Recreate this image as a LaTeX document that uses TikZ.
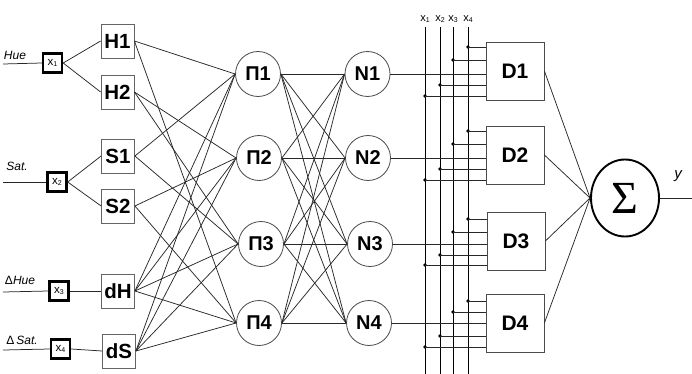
\documentclass[tikz,border=0pt]{standalone}
\usepackage{fontspec}
\setmainfont{Liberation Sans}
\newfontfamily\sigmafont{Liberation Serif}
\usetikzlibrary{shapes.geometric,calc}
\definecolor{boxgray}{RGB}{100,100,100}
\definecolor{ringgray}{RGB}{75,75,75}
\definecolor{wirecol}{RGB}{40,40,40}
\newcommand\xsub[1]{x\raisebox{-0.6pt}{\fontsize{7}{7}\selectfont #1}}
\tikzset{
  fbox/.style={draw=boxgray, line width=0.8pt, minimum width=33pt, minimum height=34pt,
    inner sep=0pt, font=\fontsize{20.5}{20.5}\selectfont\bfseries},
  xbox/.style={draw=black, line width=2.4pt, minimum width=19pt, minimum height=19pt,
    inner sep=0pt, font=\fontsize{11.5}{11.5}\selectfont},
  neuron/.style={circle, draw=ringgray, line width=0.8pt, minimum size=45pt,
    inner sep=0pt, font=\fontsize{20}{20}\selectfont\bfseries},
  dbox/.style={draw=ringgray, line width=0.8pt, minimum width=58pt, minimum height=58pt,
    inner sep=0pt, font=\fontsize{21}{21}\selectfont\bfseries},
  sumnode/.style={ellipse, draw=black, line width=1.9pt, minimum width=68pt,
    minimum height=77pt, inner sep=0pt},
  wire/.style={draw=wirecol, line width=0.75pt},
  bus/.style={draw=black, line width=0.9pt},
  junction/.style={circle, fill=black, inner sep=0pt, minimum size=3.6pt},
  inlabel/.style={font=\fontsize{12}{12}\selectfont, inner sep=0pt},
}
\begin{document}
\begin{tikzpicture}[x=1pt, y=-1pt]
\useasboundingbox (0,0) rectangle (692,374);

% ---- input terminals
\coordinate (in1) at (3,64);
\coordinate (in2) at (3,182);
\coordinate (in3) at (3,292);
\coordinate (in4) at (3,350);
\node[xbox] (x1) at (52.5,63)  {\xsub{1}};
\node[xbox] (x2) at (57,182) {\xsub{2}};
\node[xbox] (x3) at (59,291) {\xsub{3}};
\node[xbox] (x4) at (60.5,349) {\xsub{4}};
\node[inlabel] (lhue) at (15,55)  {\itshape Hue};
\node[inlabel] (lsat) at (17,166) {\itshape Sat.};
\node[inlabel] (ldhue) at (20,280) {Δ\itshape Hue};
\node[inlabel] (ldsat) at (22,340) {Δ\,\itshape Sat.};

% ---- membership layer
\node[fbox] (H1) at (117.5,41)  {H1};
\node[fbox] (H2) at (117.5,92)  {H2};
\node[fbox] (S1) at (118,156) {S1};
\node[fbox] (S2) at (118,206) {S2};
\node[fbox] (dH) at (118,291) {dH};
\node[fbox] (dS) at (119,351) {dS};

% ---- rule layer
\node[neuron] (P1) at (258,74)  {П1};
\node[neuron] (P2) at (259,158) {П2};
\node[neuron] (P3) at (261,244) {П3};
\node[neuron] (P4) at (259,323) {П4};

% ---- normalisation layer
\node[neuron] (N1) at (367.5,74)  {N1};
\node[neuron] (N2) at (368,158) {N2};
\node[neuron] (N3) at (370,244) {N3};
\node[neuron] (N4) at (369,323) {N4};

% ---- consequent blocks
\node[dbox] (D1) at (515,71)  {D1};
\node[dbox] (D2) at (515,155) {D2};
\node[dbox] (D3) at (516,241) {D3};
\node[dbox] (D4) at (515,323) {D4};

% ---- summation
\node[sumnode] (sum) at (625,198) {\sigmafont\fontsize{46}{46}\selectfont Σ};
\coordinate (out) at (692,198);
\node[font=\fontsize{15}{15}\selectfont\itshape, inner sep=0pt] (ylab) at (678,176) {y};

% ---- input wires
\draw[wire] (in1) -- (x1.west);
\draw[wire] (in2) -- (x2.west);
\draw[wire] (in3) -- (x3.west);
\draw[wire] (in4) -- (x4.west);
\draw[wire] (x1.east) -- (H1.west);
\draw[wire] (x1.east) -- (H2.west);
\draw[wire] (x2.east) -- (S1.west);
\draw[wire] (x2.east) -- (S2.west);
\draw[wire] (x3.east) -- (dH.west);
\draw[wire] (x4.east) -- (dS.west);

% ---- membership -> rules
\draw[wire] (H1.east) -- (P1.west);
\draw[wire] (H1.east) -- (P4.west);
\draw[wire] (H2.east) -- (P2.west);
\draw[wire] (H2.east) -- (P3.west);
\draw[wire] (S1.east) -- (P1.west);
\draw[wire] (S1.east) -- (P3.west);
\draw[wire] (S2.east) -- (P2.west);
\draw[wire] (S2.east) -- (P4.west);
\foreach \p in {P1,P2,P3,P4} {
  \draw[wire] (dH.east) -- (\p.west);
  \draw[wire] (dS.east) -- (\p.west);
}

% ---- rules -> normalisation (fully connected)
\foreach \p in {P1,P2,P3,P4} {
  \foreach \n in {N1,N2,N3,N4} {
    \draw[wire] (\p.east) -- (\n.west);
  }
}

% ---- input bus
\coordinate (b1) at (425,27);
\coordinate (b2) at (440,27);
\coordinate (b3) at (453,27);
\coordinate (b4) at (468,27);
\foreach \b/\k in {b1/1,b2/2,b3/3,b4/4} {
  \coordinate (\b end) at ($(\b)+(0,347)$);
  \draw[bus] (\b) -- (\b end);
  \node[inlabel, font=\fontsize{11}{11}\selectfont, anchor=base] (lab\b) at ($(\b)+(0,-5)$) {\xsub{\k}};
}

% ---- normalised strengths -> consequent blocks
\foreach \i in {1,2,3,4} {
  \draw[wire] (N\i.east) -- (N\i.east -| D\i.west);
}

% ---- bus taps into consequent blocks
\foreach \d/\ya/\yb/\yc/\yd in {D1/47/60/85/96, D2/131/144/169/180, D3/219/232/255/265, D4/301/312/336/347} {
  \node[junction] (\d t4) at (468,\ya) {};
  \node[junction] (\d t3) at (453,\yb) {};
  \node[junction] (\d t2) at (440,\yc) {};
  \node[junction] (\d t1) at (425,\yd) {};
  \foreach \t in {1,2,3,4} {
    \draw[wire] (\d t\t.center) -- (\d t\t.center -| \d.west);
  }
}

% ---- consequent blocks -> summation
\foreach \d in {D1,D2,D3,D4} {
  \draw[wire] (\d.east) -- (sum.west);
}
\draw[wire] (sum.east) -- (out);
\end{tikzpicture}
\end{document}
